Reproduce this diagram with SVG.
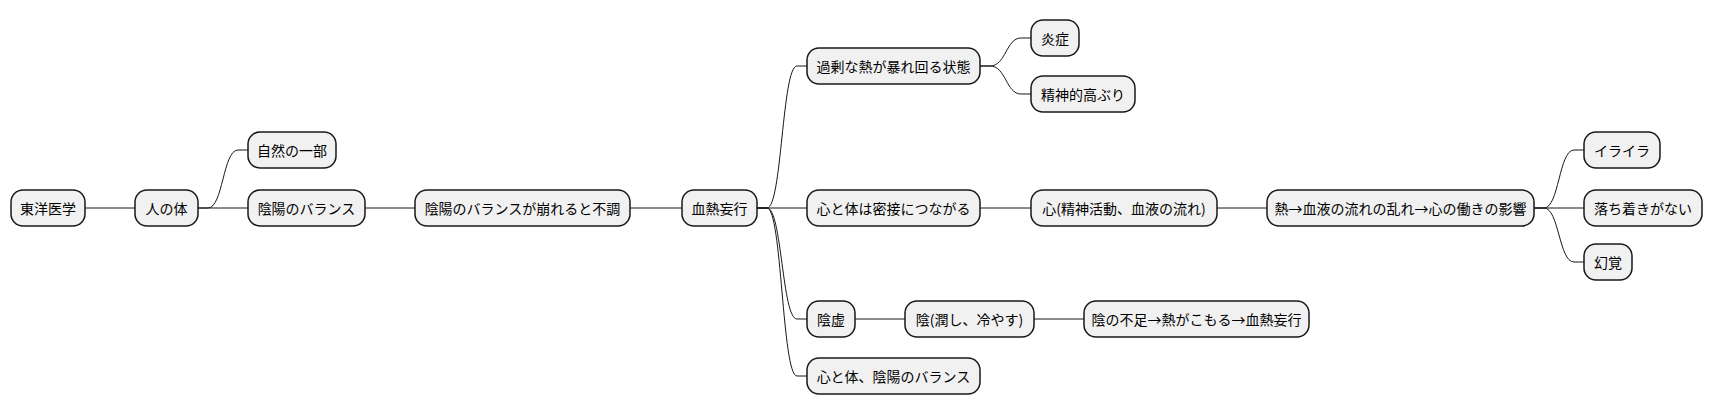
<svg xmlns="http://www.w3.org/2000/svg" width="1713" height="415" viewBox="0 0 1713 415">
<style>
.n rect{fill:#f1f1f1;stroke:#181818;stroke-width:1.5}
.n text{font-family:"Noto Sans CJK JP","Liberation Sans",sans-serif;font-size:14px;fill:#000;text-anchor:middle;dominant-baseline:central}
.c path{fill:none;stroke:#181818;stroke-width:1}
</style>
<g class="c">
<path d="M85,208 H135"/>
<path d="M198,208 H208 C223,208 223,150 238,150 H248"/>
<path d="M198,208 H248"/>
<path d="M365,208 H415"/>
<path d="M630,208 H682"/>
<path d="M757,208 H767 C782,208 782,66 797,66 H807"/>
<path d="M757,208 H807"/>
<path d="M757,208 H767 C782,208 782,319 797,319 H807"/>
<path d="M757,208 H767 C782,208 782,376 797,376 H807"/>
<path d="M980,66 H990 C1006,66 1006,38 1021,38 H1031"/>
<path d="M980,66 H990 C1006,66 1006,94 1021,94 H1031"/>
<path d="M980,208 H1031"/>
<path d="M1217,208 H1267"/>
<path d="M1534,208 H1544 C1559,208 1559,150 1574,150 H1584"/>
<path d="M1534,208 H1584"/>
<path d="M1534,208 H1544 C1559,208 1559,262 1574,262 H1584"/>
<path d="M855,319 H905"/>
<path d="M1034,319 H1084"/>
</g>
<g id="n1" class="n"><rect x="11" y="190" width="74" height="36" rx="12"/><text x="48" y="208">東洋医学</text></g>
<g id="n2" class="n"><rect x="135" y="190" width="63" height="36" rx="12"/><text x="166.5" y="208">人の体</text></g>
<g id="n3" class="n"><rect x="248" y="132" width="88" height="36" rx="12"/><text x="292" y="150">自然の一部</text></g>
<g id="n4" class="n"><rect x="248" y="190" width="117" height="36" rx="12"/><text x="306.5" y="208">陰陽のバランス</text></g>
<g id="n5" class="n"><rect x="415" y="190" width="215" height="36" rx="12"/><text x="522.5" y="208">陰陽のバランスが崩れると不調</text></g>
<g id="n6" class="n"><rect x="682" y="190" width="75" height="36" rx="12"/><text x="719.5" y="208">血熱妄行</text></g>
<g id="n7" class="n"><rect x="807" y="48" width="173" height="36" rx="12"/><text x="893.5" y="66">過剰な熱が暴れ回る状態</text></g>
<g id="n8" class="n"><rect x="1031" y="20" width="48" height="36" rx="12"/><text x="1055" y="38">炎症</text></g>
<g id="n9" class="n"><rect x="1031" y="76" width="104" height="36" rx="12"/><text x="1083" y="94">精神的高ぶり</text></g>
<g id="n10" class="n"><rect x="807" y="190" width="173" height="36" rx="12"/><text x="893.5" y="208">心と体は密接につながる</text></g>
<g id="n11" class="n"><rect x="1031" y="190" width="186" height="36" rx="12"/><text x="1124" y="208">心(精神活動、血液の流れ)</text></g>
<g id="n12" class="n"><rect x="1267" y="190" width="267" height="36" rx="12"/><text x="1400.5" y="208">熱→血液の流れの乱れ→心の働きの影響</text></g>
<g id="n13" class="n"><rect x="1584" y="132" width="76" height="36" rx="12"/><text x="1622" y="150">イライラ</text></g>
<g id="n14" class="n"><rect x="1584" y="190" width="118" height="36" rx="12"/><text x="1643" y="208">落ち着きがない</text></g>
<g id="n15" class="n"><rect x="1584" y="244" width="48" height="36" rx="12"/><text x="1608" y="262">幻覚</text></g>
<g id="n16" class="n"><rect x="807" y="301" width="48" height="36" rx="12"/><text x="831" y="319">陰虚</text></g>
<g id="n17" class="n"><rect x="905" y="301" width="129" height="36" rx="12"/><text x="969.5" y="319">陰(潤し、冷やす)</text></g>
<g id="n18" class="n"><rect x="1084" y="301" width="225" height="36" rx="12"/><text x="1196.5" y="319">陰の不足→熱がこもる→血熱妄行</text></g>
<g id="n19" class="n"><rect x="807" y="358" width="173" height="36" rx="12"/><text x="893.5" y="376">心と体、陰陽のバランス</text></g>
</svg>
